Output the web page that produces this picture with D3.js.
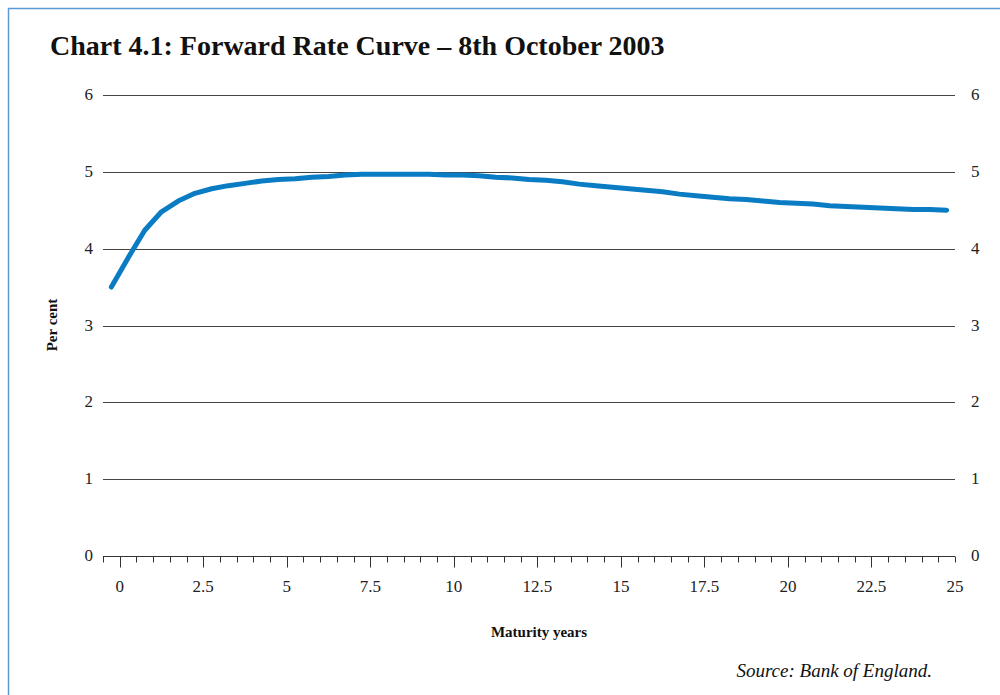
<!DOCTYPE html>
<html>
<head>
<meta charset="utf-8">
<script src="https://cdn.jsdelivr.net/npm/d3@7"></script>
<style>
  body { margin: 0; background: #fff; }
  svg { display: block; }
</style>
</head>
<body>
<script>
// forward rate curve, 8 Oct 2003
const maturity = [-0.25, 0.25, 0.75, 1.25, 1.75, 2.25, 2.75, 3.25, 3.75, 4.25,
  4.75, 5.25, 5.75, 6.25, 6.75, 7.25, 7.75, 8.25, 8.75, 9.25,
  9.75, 10.25, 10.75, 11.25, 11.75, 12.25, 12.75, 13.25, 13.75, 14.25,
  14.75, 15.25, 15.75, 16.25, 16.75, 17.25, 17.75, 18.25, 18.75, 19.25,
  19.75, 20.25, 20.75, 21.25, 21.75, 22.25, 22.75, 23.25, 23.75, 24.25, 24.75]
const rate = [3.50, 3.88, 4.24, 4.48, 4.62, 4.72, 4.78, 4.82, 4.85, 4.88,
  4.90, 4.91, 4.93, 4.94, 4.96, 4.97, 4.97, 4.97, 4.97, 4.97,
  4.96, 4.96, 4.95, 4.93, 4.92, 4.90, 4.89, 4.87, 4.84, 4.82,
  4.80, 4.78, 4.76, 4.74, 4.71, 4.69, 4.67, 4.65, 4.64, 4.62,
  4.60, 4.59, 4.58, 4.56, 4.55, 4.54, 4.53, 4.52, 4.51, 4.51, 4.50]
const xTicks = [0, 2.5, 5, 7.5, 10, 12.5, 15, 17.5, 20, 22.5, 25]
const yTicks = [0, 1, 2, 3, 4, 5, 6]

const titleText = "Chart 4.1: Forward Rate Curve \u2013 8th October 2003"
const sourceText = "Source: Bank of England."

width = 1000
height = 695
margin = {top: 95, bottom: 139, left: 103, right: 45}
const serif = "'Liberation Serif', 'Times New Roman', serif"

const svg = d3.select("body").append("svg")
  .attr("width", width)
  .attr("height", height)
  .attr("font-family", serif)

// frame
svg.append("path")
  .attr("d", `M8.5,${height} L8.5,8.5 L${width},8.5`)
  .attr("fill", "none")
  .attr("stroke", "#5b9bd5")
  .attr("stroke-width", 1.5)

// title
svg.append("text")
  .attr("x", 50)
  .attr("y", 55)
  .attr("font-size", 28)
  .attr("font-weight", "bold")
  .attr("fill", "#111")
  .text(titleText)

// scales
x = d3.scaleLinear().domain([-0.5, 25]).range([margin.left, width - margin.right])
y = d3.scaleLinear().domain([0, 6]).range([height - margin.bottom, margin.top])

// gridlines (skip zero, that's the axis)
svg.append("g").selectAll("line")
  .data(yTicks.filter(d => d > 0))
  .join("line")
  .attr("x1", x(-0.5))
  .attr("x2", x(25))
  .attr("y1", d => Math.round(y(d)) + 0.5)
  .attr("y2", d => Math.round(y(d)) + 0.5)
  .attr("stroke", "#444")
  .attr("stroke-width", 1)

// y labels both sides
const yl = svg.append("g").attr("font-size", 17).attr("fill", "#222")
yl.selectAll(".yl").data(yTicks).join("text")
  .attr("x", 93).attr("y", d => y(d)).attr("dy", "0.3em")
  .attr("text-anchor", "end")
  .text(d => d)
yl.selectAll(".yr").data(yTicks).join("text")
  .attr("x", 971).attr("y", d => y(d)).attr("dy", "0.3em")
  .attr("text-anchor", "start")
  .text(d => d)

// x axis: minor ticks every half year, major at the labelled values
const minor = d3.range(-0.5, 25.01, 0.5)
const gx = svg.append("g")
  .attr("transform", `translate(0, ${Math.round(y(0)) + 0.5})`)
gx.append("line")
  .attr("x1", x(-0.5)).attr("x2", x(25))
  .attr("stroke", "#333")
gx.selectAll(".tk").data(minor).join("line")
  .attr("x1", d => Math.round(x(d)) + 0.5)
  .attr("x2", d => Math.round(x(d)) + 0.5)
  .attr("y1", 0)
  .attr("y2", d => (xTicks.includes(d) && d < 25) ? 11 : 6)
  .attr("stroke", "#333")
gx.selectAll(".lb").data(xTicks).join("text")
  .attr("x", d => x(d))
  .attr("y", 35)
  .attr("text-anchor", "middle")
  .attr("font-size", 17)
  .attr("fill", "#222")
  .text(d => d)

// axis titles
svg.append("text")
  .attr("transform", `translate(57, 325) rotate(-90)`)
  .attr("text-anchor", "middle")
  .attr("font-size", 15)
  .attr("font-weight", "bold")
  .attr("fill", "#111")
  .text("Per cent")
svg.append("text")
  .attr("x", 539)
  .attr("y", 637)
  .attr("text-anchor", "middle")
  .attr("font-size", 15)
  .attr("font-weight", "bold")
  .attr("fill", "#111")
  .text("Maturity years")

// the curve
const pts = maturity.map((m, i) => [m, rate[i]])
svg.append("path")
  .datum(pts)
  .attr("d", d3.line().x(d => x(d[0])).y(d => y(d[1])))
  .attr("fill", "none")
  .attr("stroke", "#0a7cc4")
  .attr("stroke-width", 5)
  .attr("stroke-linecap", "round")
  .attr("stroke-linejoin", "round")

// source note
svg.append("text")
  .attr("x", 932)
  .attr("y", 677)
  .attr("text-anchor", "end")
  .attr("font-size", 19)
  .attr("font-style", "italic")
  .attr("fill", "#111")
  .text(sourceText)
</script>
</body>
</html>
